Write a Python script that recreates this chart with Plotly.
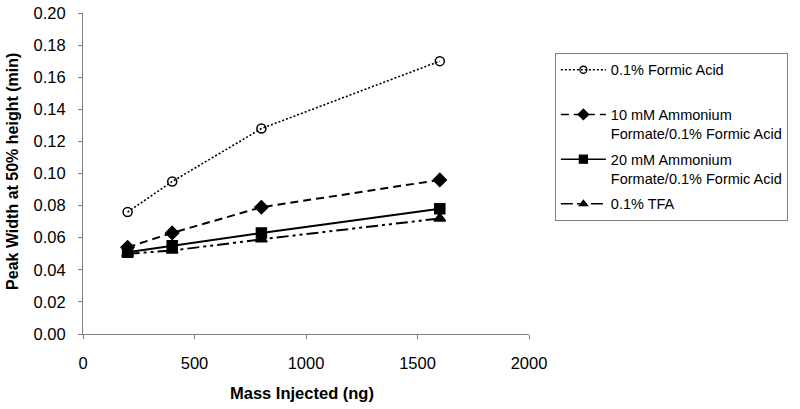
import plotly.graph_objects as go

mass_ng = [200, 400, 800, 1600]
formic_acid = [0.076, 0.095, 0.128, 0.170]
amf10_formic = [0.054, 0.063, 0.079, 0.096]
amf20_formic = [0.051, 0.055, 0.063, 0.078]
tfa = [0.050, 0.052, 0.059, 0.072]

series_names = [
    "0.1% Formic Acid",
    "10 mM Ammonium<br>Formate/0.1% Formic Acid",
    "20 mM Ammonium<br>Formate/0.1% Formic Acid",
    "0.1% TFA",
]

x_ticks = [0, 500, 1000, 1500, 2000]
y_ticks = [0.00, 0.02, 0.04, 0.06, 0.08, 0.10, 0.12, 0.14, 0.16, 0.18, 0.20]

FONT = "Liberation Sans, Arial, sans-serif"
DOT_DASH = "2px,2px"
DASH_DASH = "8px,5px"
TFA_DASH = "12px,4px,3px,4px,3px,4px"

fig = go.Figure()
styles = [
    (formic_acid, DOT_DASH, "circle-open", 9, 7, 1.6),
    (amf10_formic, DASH_DASH, "diamond", 10, 8, 2),
    (amf20_formic, "solid", "square", 10, 8, 2),
    (tfa, TFA_DASH, "triangle-up", 10, 7, 2),
]
for i, (vals, dash, sym, sz, lsz, lw) in enumerate(styles):
    fig.add_trace(go.Scatter(
        x=mass_ng, y=vals, name=series_names[i], mode="lines+markers",
        showlegend=False,
        line=dict(color="black", width=lw, dash=dash),
        marker=dict(symbol=sym, size=sz, color="black",
                    line=dict(color="black", width=1.5)),
    ))
for i, (vals, dash, sym, sz, lsz, lw) in enumerate(styles):
    name = series_names[i]
    if i == 0:
        name = name + "<br> "
    fig.add_trace(go.Scatter(
        x=[None], y=[None], name=name, mode="lines+markers",
        legendgroup=f"g{i}",
        line=dict(color="black", width=1.5, dash=dash),
        marker=dict(symbol=sym, size=lsz, color="black",
                    line=dict(color="black", width=1.3)),
    ))

fig.update_layout(
    width=800, height=409,
    margin=dict(l=83, r=271, t=13, b=75, autoexpand=False),
    paper_bgcolor="white", plot_bgcolor="white",
    font=dict(family=FONT, color="black", size=16),
    showlegend=True,
    legend=dict(
        x=1.058, y=0.876, xanchor="left", yanchor="top",
        bordercolor="#808080", borderwidth=1,
        font=dict(family=FONT, size=14.5, color="black"),
        traceorder="grouped", tracegroupgap=4,
        valign="top", itemwidth=45,
    ),
    xaxis=dict(
        range=[0, 2000], tickvals=x_ticks, ticktext=[str(v) for v in x_ticks],
        showgrid=False, zeroline=False, showline=True, linecolor="#808080",
        linewidth=1, ticks="outside", ticklen=4, tickcolor="#808080",
        tickfont=dict(size=16.5), automargin=False, ticklabelstandoff=10,
    ),
    yaxis=dict(
        range=[0, 0.2], tickvals=y_ticks, ticktext=[f"{v:.2f}" for v in y_ticks],
        showgrid=False, zeroline=False, showline=True, linecolor="#808080",
        linewidth=1, ticks="outside", ticklen=4, tickcolor="#808080",
        tickfont=dict(size=16.5), automargin=False, ticklabelstandoff=9,
    ),
    annotations=[
        dict(text="<b>Mass Injected (ng)</b>", xref="paper", yref="paper",
             x=0.49, y=-0.185, xanchor="center", yanchor="middle",
             showarrow=False, font=dict(size=16.5, family=FONT)),
        dict(text="<b>Peak Width at 50% height (min)</b>", xref="paper", yref="paper",
             x=-0.157, y=0.508, xanchor="center", yanchor="middle", textangle=-90,
             showarrow=False, font=dict(size=16, family=FONT)),
    ],
)

fig.write_html("out.html", config={"displayModeBar": False},
               post_script="document.body.style.margin='0';")
